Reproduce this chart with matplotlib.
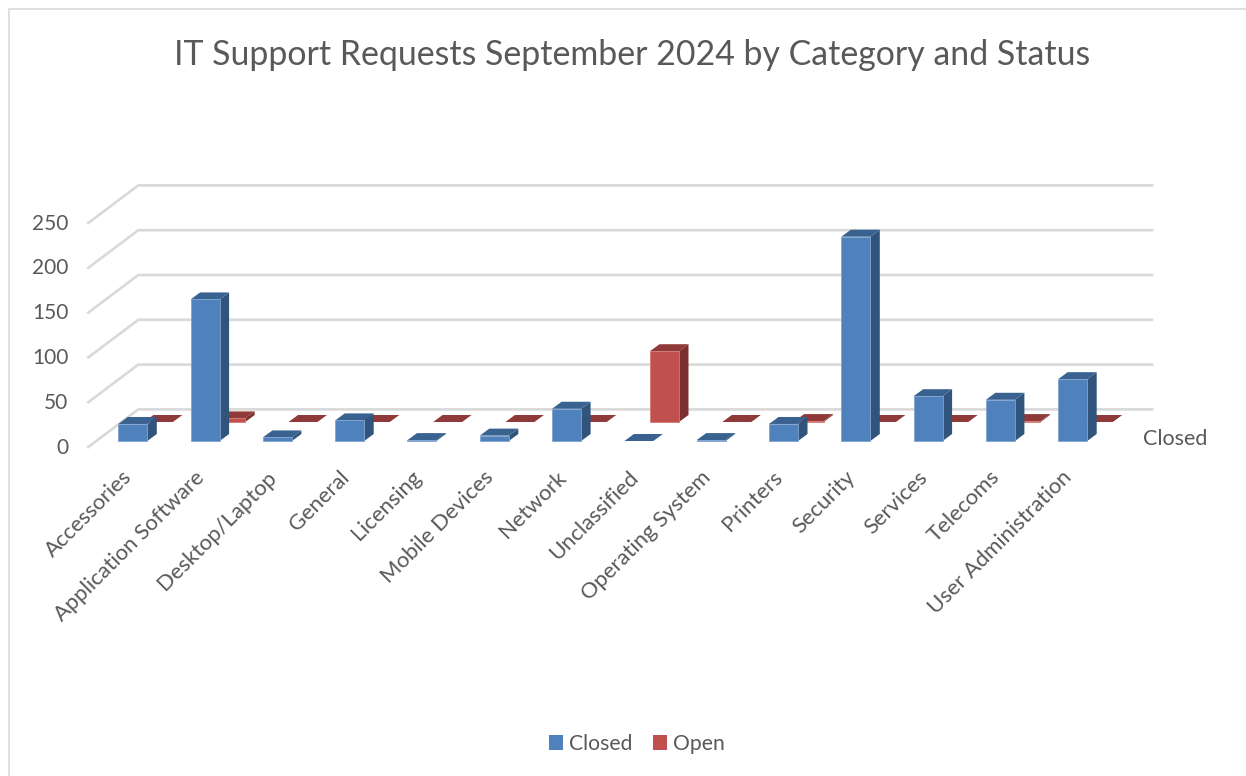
#!/usr/bin/python
# -*- coding: utf-8 -*-
import matplotlib
matplotlib.use('Agg')
import matplotlib.pyplot as plt
from matplotlib.patches import Polygon, Patch
from matplotlib.lines import Line2D

plt.rcParams['font.family'] = ['Lato', 'DejaVu Sans']

categories = ['Accessories', 'Application Software', 'Desktop/Laptop', 'General',
              'Licensing', 'Mobile Devices', 'Network', 'Unclassified',
              'Operating System', 'Printers', 'Security', 'Services',
              'Telecoms', 'User Administration']
closed = [19, 158, 4, 23, 1, 6, 36, 0, 1, 19, 228, 50, 46, 69]
open_ = [0, 4, 0, 0, 0, 0, 0, 79, 0, 1, 0, 0, 1, 0]
yticks = [0, 50, 100, 150, 200, 250]

W, H = 1246, 776
x0_px, x_step = 118.3, 72.3   # pixel of first bar, pixels per category
y0_px, y_scale = 441.0, 0.896 # pixel of value 0, pixels per unit

# depth offsets in data units
bar_w = 29.0/x_step
bar_dx, bar_dy = 9.5/x_step, 7.0/y_scale
row_dx, row_dy = 25.6/x_step, 19.0/y_scale
wall_x0, wall_x1 = (88.3-x0_px)/x_step, (1152-x0_px)/x_step
wall_dx, wall_dy = 50.0/x_step, 37.6/y_scale
wall_y0 = -6.0/y_scale

text_col = '#595959'
grid_col = '#d9d9d9'
cols = {'closed':{'front':'#4f81bd','top':'#3a6291','side':'#31547c','edge':'#7fa3d0'},
        'open':{'front':'#c0504d','top':'#8f3a38','side':'#79302e','edge':'#d27a77'}}


def draw_bar(ax, x, base, val, col):
    w = bar_w
    edge = dict(edgecolor='none', linewidth=0, clip_on=False)
    ax.add_patch(Polygon([(x+w,base),(x+w+bar_dx,base+bar_dy),
                          (x+w+bar_dx,base+val+bar_dy),(x+w,base+val)],
                         facecolor=col['side'], **edge))
    ax.add_patch(Polygon([(x,base+val),(x+w,base+val),
                          (x+w+bar_dx,base+val+bar_dy),(x+bar_dx,base+val+bar_dy)],
                         facecolor=col['top'], **edge))
    if val > 0:
        ax.add_patch(Polygon([(x,base),(x+w,base),(x+w,base+val),(x,base+val)],
                             facecolor=col['front'], edgecolor=col['edge'],
                             linewidth=0.6, clip_on=False))


if __name__ == '__main__':
    fig = plt.figure(figsize=(W/100, H/100), dpi=100)
    ax = fig.add_axes([0, 0, 1, 1])
    ax.set_xlim(-x0_px/x_step, (W-x0_px)/x_step)
    ax.set_ylim((y0_px-H)/y_scale, y0_px/y_scale)
    ax.axis('off')

    # chart area border, only left and top show
    fig.add_artist(Line2D([9/W, 9/W, 1], [0, 1-8.5/H, 1-8.5/H], color=grid_col,
                          lw=1.2, solid_joinstyle='miter'))

    # walls
    for v in yticks:
        y = v + wall_y0
        ax.plot([wall_x0, wall_x0+wall_dx, wall_x1], [y, y+wall_dy, y+wall_dy],
                color=grid_col, lw=1.9, solid_joinstyle='miter', zorder=1)
        ax.text(wall_x0-20/x_step, v-6.5/y_scale, str(v), ha='right', va='center',
                fontsize=15, color=text_col)

    # open row sits behind the closed row
    for i, val in enumerate(open_):
        draw_bar(ax, i+row_dx, row_dy, val, cols['open'])
    for i, val in enumerate(closed):
        draw_bar(ax, i, 0, val, cols['closed'])

    for i, cat in enumerate(categories):
        ax.text(i+bar_w/2-11/x_step, -26/y_scale, cat, rotation=45, ha='right', va='top',
                rotation_mode='anchor', fontsize=15.8, color=text_col)

    ax.text((1143-x0_px)/x_step, (y0_px-439)/y_scale, 'Closed', ha='left', va='center',
            fontsize=15.5, color=text_col)
    fig.text(632.5/W, 1-55/H, 'IT Support Requests September 2024 by Category and Status',
             ha='center', va='center', fontsize=24.4, color=text_col)

    handles = [Patch(facecolor=cols['closed']['front'], label='Closed'),
               Patch(facecolor=cols['open']['front'], label='Open')]
    fig.legend(handles=handles, loc='center', bbox_to_anchor=(637/W, 1-744/H), ncol=2,
               frameon=False, fontsize=15.2, labelcolor=text_col, handlelength=0.66,
               handleheight=0.66, handletextpad=0.3, columnspacing=0.95)

    plt.savefig('out.png', dpi=100)
    plt.close(fig)
